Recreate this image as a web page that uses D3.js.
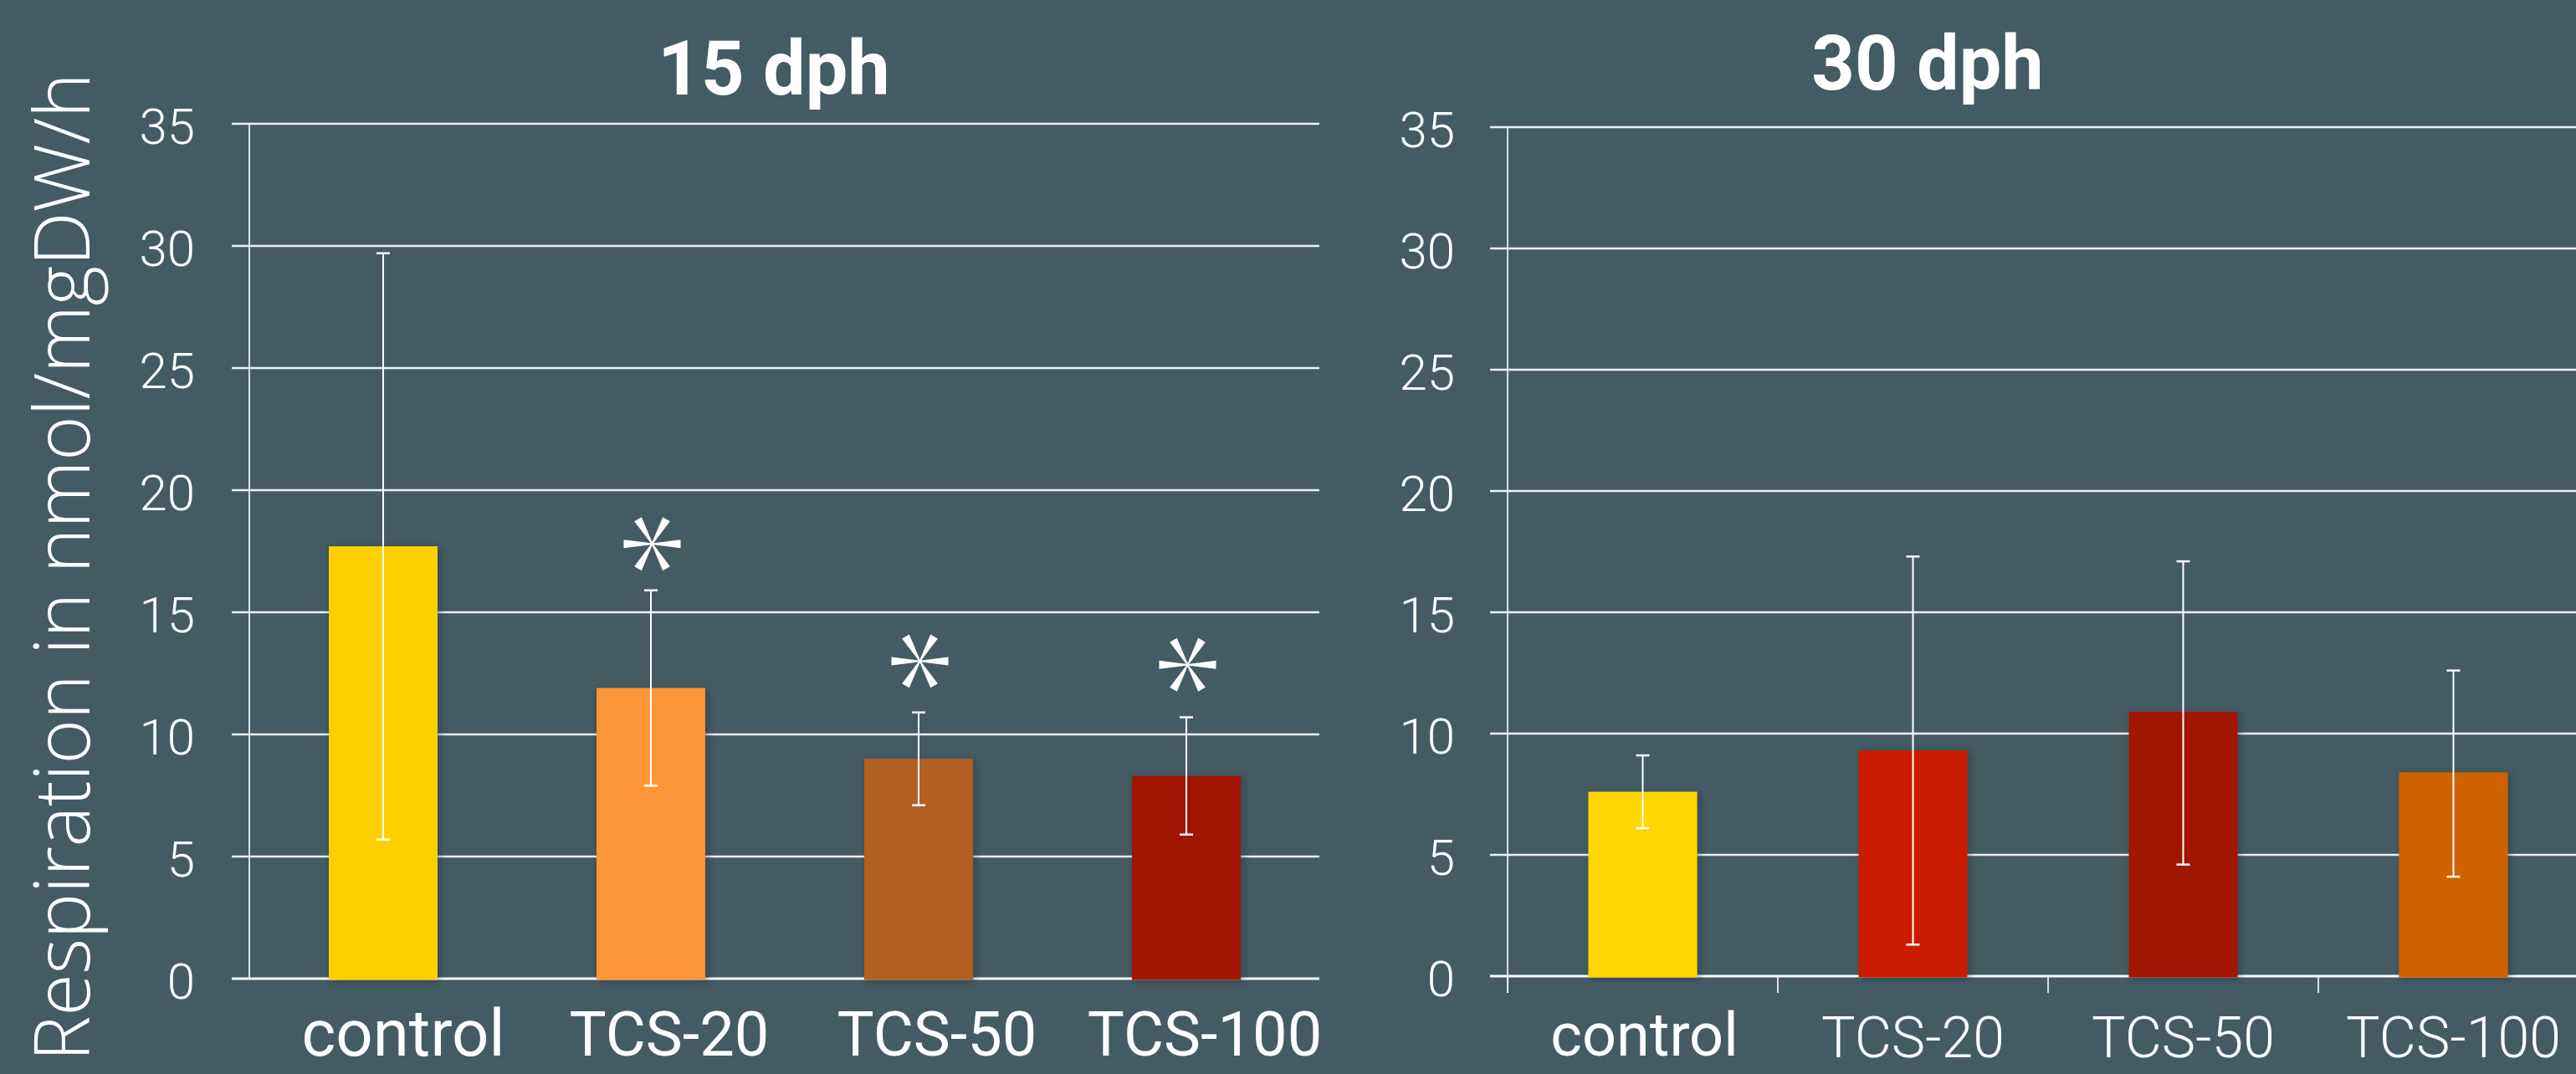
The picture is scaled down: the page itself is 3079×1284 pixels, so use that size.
<!DOCTYPE html>
<html><head><meta charset="utf-8">
<script src="https://cdn.jsdelivr.net/npm/d3@7"></script>
<style>
html,body{margin:0;padding:0;background:#455B64;overflow:hidden;}
svg{display:block;}
</style></head>
<body>
<script>
// ---- data ----
const categories = ["control", "TCS-20", "TCS-50", "TCS-100"];
const titles = ["15 dph", "30 dph"];
const mean15 = [17.7, 11.9, 9.0, 8.3];
const errHi15 = [29.7, 15.9, 10.9, 10.7];
const errLo15 = [5.7, 7.9, 7.1, 5.9];
const star15 = [null, 17.8, 13.0, 12.85];
const mean30 = [7.6, 9.3, 10.9, 8.4];
const errHi30 = [9.1, 17.3, 17.1, 12.6];
const errLo30 = [6.1, 1.3, 4.6, 4.1];
const star30 = [null, null, null, null];
const colors15 = ["#FFD000", "#FF9639", "#B35E21", "#A01600"];
const colors30 = ["#FFD500", "#CC1C00", "#A01800", "#D06200"];
const yTicks = [0, 5, 10, 15, 20, 25, 30, 35];
const yTitle = "Respiration in nmol/mgDW/h";

const W = 3079, H = 1284;
const BG = "#455B64";
const svg = d3.select("body").append("svg").attr("width", W).attr("height", H);
svg.append("rect").attr("width", W).attr("height", H).attr("fill", BG);

const defs = svg.append("defs");
const f = defs.append("filter").attr("id", "sh").attr("x", "-10%").attr("y", "-10%").attr("width", "130%").attr("height", "130%");
f.append("feDropShadow").attr("dx", 3).attr("dy", 2).attr("stdDeviation", 4)
  .attr("flood-color", "#1c2a30").attr("flood-opacity", 0.45);

// asterisk shape (6 tapered spokes)
function starPath(r, wTip, wBase) {
  let p = "";
  for (let k = 0; k < 6; k++) {
    const a = k * Math.PI / 3;
    const c = Math.cos(a), s = Math.sin(a);
    const nx = -s, ny = c;
    const pts = [
      [nx * wBase / 2, ny * wBase / 2],
      [c * r + nx * wTip / 2, s * r + ny * wTip / 2],
      [c * r - nx * wTip / 2, s * r - ny * wTip / 2],
      [-nx * wBase / 2, -ny * wBase / 2]
    ];
    p += "M" + pts.map(q => q[0].toFixed(2) + "," + q[1].toFixed(2)).join("L") + "Z";
  }
  return p;
}

const panels = [
  { title: titles[0], mean: mean15, hi: errHi15, lo: errLo15, star: star15, colors: colors15,
    x0: 298, x1: 1578, yTop: 148, yBot: 1170, pad: 0.594, gridStart: 277, gridEnd: 1577,
    titleX: 925, titleY: 113, tickLabelX: 233, axisBottom: 1170, xTicks: false,
    labelY: [1262, 1262, 1262, 1262], labelSize: 74, labelWeight: [400, 400, 400, 400], labelDx: 22 },
  { title: titles[1], mean: mean30, hi: errHi30, lo: errLo30, star: star30, colors: colors30,
    x0: 1802, x1: 3094, yTop: 152, yBot: 1167, pad: 0.5975, gridStart: 1781, gridEnd: 3079,
    titleX: 2304, titleY: 107, tickLabelX: 1739, axisBottom: 1187, xTicks: true,
    labelY: [1262, 1264, 1264, 1264], labelSize: 68, labelWeight: [400, 300, 300, 300], labelDx: 0 }
];

panels.forEach(P => {
  const g = svg.append("g");
  const x = d3.scaleBand().domain(categories).range([P.x0, P.x1])
    .paddingInner(P.pad).paddingOuter(P.pad / 2);
  const y = d3.scaleLinear().domain([0, 35]).range([P.yBot, P.yTop]);

  // gridlines
  g.selectAll("line.grid").data(yTicks.filter(t => t > 0)).join("line")
    .attr("x1", P.gridStart).attr("x2", P.gridEnd)
    .attr("y1", d => y(d)).attr("y2", d => y(d))
    .attr("stroke", "#eef0f0").attr("stroke-width", 2.5);

  // y axis line
  g.append("line").attr("x1", P.x0).attr("x2", P.x0)
    .attr("y1", y(35)).attr("y2", P.axisBottom)
    .attr("stroke", "#ffffff").attr("stroke-width", 1.6);

  // zero line
  g.append("line").attr("x1", P.gridStart).attr("x2", P.gridEnd)
    .attr("y1", y(0)).attr("y2", y(0))
    .attr("stroke", "#ffffff").attr("stroke-width", 3);

  // x ticks between categories
  if (P.xTicks) {
    const step = x.step();
    g.selectAll("line.xt").data(categories).join("line")
      .attr("x1", d => x(d) - x.paddingOuter() * step)
      .attr("x2", d => x(d) - x.paddingOuter() * step)
      .attr("y1", y(0)).attr("y2", P.axisBottom)
      .attr("stroke", "#ffffff").attr("stroke-width", 1.6);
  }

  // y tick labels
  g.selectAll("text.yt").data(yTicks).join("text")
    .attr("x", P.tickLabelX).attr("y", d => y(d) + 3)
    .attr("text-anchor", "end").attr("dominant-baseline", "central")
    .attr("font-family", "Roboto, 'Liberation Sans', sans-serif")
    .attr("font-weight", 300).attr("font-size", 60).attr("fill", "#ffffff")
    .text(d => d);

  // bars
  g.selectAll("rect.bar").data(categories).join("rect")
    .attr("x", d => x(d)).attr("width", x.bandwidth())
    .attr("y", (d, i) => y(P.mean[i])).attr("height", (d, i) => y(0) - y(P.mean[i]) + 1.5)
    .attr("fill", (d, i) => P.colors[i]).attr("filter", "url(#sh)");

  // error bars
  const eb = g.selectAll("g.eb").data(categories).join("g");
  eb.append("line")
    .attr("x1", d => x(d) + x.bandwidth() / 2).attr("x2", d => x(d) + x.bandwidth() / 2)
    .attr("y1", (d, i) => y(P.hi[i])).attr("y2", (d, i) => y(P.lo[i]))
    .attr("stroke", "#ffffff").attr("stroke-width", 2);
  ["hi", "lo"].forEach(k => {
    eb.append("line")
      .attr("x1", d => x(d) + x.bandwidth() / 2 - 8).attr("x2", d => x(d) + x.bandwidth() / 2 + 8)
      .attr("y1", (d, i) => y(P[k][i])).attr("y2", (d, i) => y(P[k][i]))
      .attr("stroke", "#ffffff").attr("stroke-width", 2.5);
  });

  // significance stars
  g.selectAll("path.star").data(categories.filter((d, i) => P.star[i] != null)).join("path")
    .attr("d", starPath(34, 10, 1.5))
    .attr("transform", d => `translate(${x(d) + x.bandwidth() / 2 + 1.5},${y(P.star[categories.indexOf(d)])})`)
    .attr("fill", "#ffffff");

  // category labels
  g.selectAll("text.xl").data(categories).join("text")
    .attr("x", d => x(d) + x.bandwidth() / 2 + (d === "control" ? (P.labelDx + 2) : P.labelDx))
    .attr("y", (d, i) => P.labelY[i])
    .attr("text-anchor", "middle")
    .attr("font-family", "Roboto, 'Liberation Sans', sans-serif")
    .attr("font-weight", (d, i) => P.labelWeight[i])
    .attr("font-size", (d, i) => (d === "control" ? P.labelSize + 4 : P.labelSize))
    .attr("fill", "#ffffff")
    .text(d => d);

  // title
  g.append("text").attr("x", P.titleX).attr("y", P.titleY)
    .attr("text-anchor", "middle")
    .attr("font-family", "Roboto, 'Liberation Sans', sans-serif")
    .attr("font-weight", 700).attr("font-size", 90).attr("fill", "#ffffff")
    .text(P.title);
});

// y axis title
svg.append("text")
  .attr("transform", "translate(107,678) rotate(-90)")
  .attr("text-anchor", "middle")
  .attr("font-family", "'Open Sans', 'DejaVu Sans', sans-serif")
  .attr("font-weight", 300).attr("font-size", 92).attr("fill", "#ffffff")
  .attr("textLength", 1182).attr("lengthAdjust", "spacing")
  .text(yTitle);
</script>
</body></html>
